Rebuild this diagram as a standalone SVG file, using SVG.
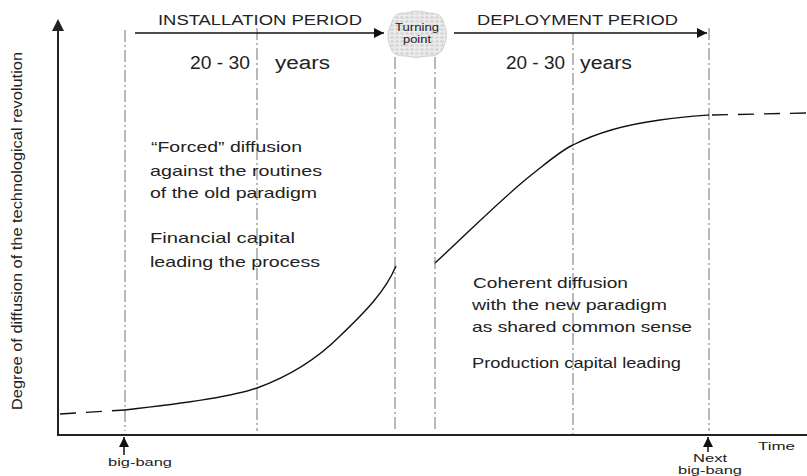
<svg xmlns="http://www.w3.org/2000/svg" width="807" height="476" viewBox="0 0 807 476">
<style>
  text { font-family: "Liberation Sans", Arial, sans-serif; fill: #222; }
  .axis { stroke: #222; stroke-width: 2; fill: none; }
  .grid { stroke: #8a8a8a; stroke-width: 1.2; stroke-dasharray: 12 3 2 3; fill: none; }
  .curve { stroke: #111; stroke-width: 1.4; fill: none; }
  .dash { stroke: #111; stroke-width: 1.4; fill: none; stroke-dasharray: 16 10; }
  .arrow { stroke: #111; stroke-width: 1.5; fill: none; marker-end: url(#head); }
  .body { font-size: 15px; }
  .title { font-size: 14px; }
  .years { font-size: 18px; }
  .small { font-size: 10.5px; }
</style>
<defs>
  <marker id="head" markerWidth="10" markerHeight="10" refX="10" refY="5" orient="auto" markerUnits="userSpaceOnUse">
    <path d="M0,0 L10,5 L0,10 Z" fill="#111"/>
  </marker>
  <pattern id="tex" width="5" height="4" patternUnits="userSpaceOnUse">
    <rect width="5" height="4" fill="#ececec"/>
    <rect x="0.5" y="0.5" width="3" height="2" fill="#cfcfcf"/>
  </pattern>
</defs>

<g id="axes">
  <line class="axis" x1="58" y1="435" x2="58" y2="30"/>
  <path d="M52,31 L58,19 L64,31 Z" fill="#222"/>
  <line class="axis" x1="57" y1="435" x2="807" y2="435"/>
  <text x="22" y="231" font-size="14" text-anchor="middle" transform="rotate(-90 22 231)" textLength="358" lengthAdjust="spacingAndGlyphs">Degree of diffusion of the technological revolution</text>
  <text x="758" y="450" font-size="11" textLength="37" lengthAdjust="spacingAndGlyphs">Time</text>
</g>

<g id="gridlines">
  <line class="grid" x1="125" y1="30" x2="125" y2="431"/>
  <line class="grid" x1="257" y1="28" x2="257" y2="431"/>
  <line class="grid" x1="395" y1="57" x2="395" y2="431"/>
  <line class="grid" x1="435" y1="57" x2="435" y2="431"/>
  <line class="grid" x1="573" y1="33" x2="573" y2="434"/>
  <line class="grid" x1="709" y1="28" x2="709" y2="431"/>
</g>

<g id="connectors">
  <line class="arrow" x1="135" y1="33" x2="384" y2="33"/>
  <line class="arrow" x1="454" y1="33" x2="707" y2="33"/>
  <line class="arrow" x1="124" y1="455" x2="124" y2="437"/>
  <line class="arrow" x1="708" y1="452" x2="708" y2="437"/>
</g>

<g id="curve">
  <path class="dash" d="M60,414 L125,410"/>
  <path class="curve" d="M125,410 C180,404 235,396 257,388 C290,376 318,358 340,336 C365,312 385,292 396,266"/>
  <path class="curve" d="M435,263 C470,231 500,200 530,176 C548,162 560,151 573,145 C600,131 630,124 660,120 C680,117 695,116 709,115"/>
  <path class="dash" d="M712,115 L807,113" stroke-dasharray="20 18"/>
</g>

<g id="installation">
  <text class="title" x="158" y="25" textLength="204" lengthAdjust="spacingAndGlyphs">INSTALLATION PERIOD</text>
  <text class="years" x="190" y="69" textLength="60" lengthAdjust="spacingAndGlyphs">20 - 30</text>
  <text class="years" x="275" y="69" textLength="55" lengthAdjust="spacingAndGlyphs">years</text>
</g>

<g id="turning-point">
  <path d="M392,22 Q394,12 407,13 Q417,9 428,13 Q442,12 444,24 Q449,35 444,46 Q441,57 427,56 Q417,59 406,56 Q392,57 390,46 Q385,35 392,22 Z" fill="url(#tex)" stroke="#d0d0d0" stroke-width="1"/>
  <line x1="417" y1="13" x2="417" y2="57" stroke="#e6e6e6" stroke-width="1"/>
  <text x="417" y="31" text-anchor="middle" font-size="10.5" textLength="44" lengthAdjust="spacingAndGlyphs">Turning</text>
  <text x="417" y="43" text-anchor="middle" font-size="10.5" textLength="28" lengthAdjust="spacingAndGlyphs">point</text>
</g>

<g id="deployment">
  <text class="title" x="477" y="25" textLength="201" lengthAdjust="spacingAndGlyphs">DEPLOYMENT PERIOD</text>
  <text class="years" x="506" y="69" textLength="59" lengthAdjust="spacingAndGlyphs">20 - 30</text>
  <text class="years" x="580" y="69" textLength="52" lengthAdjust="spacingAndGlyphs">years</text>
</g>

<g id="installation-text">
  <text class="body" x="151" y="152" textLength="151" lengthAdjust="spacingAndGlyphs">“Forced” diffusion</text>
  <text class="body" x="150" y="176" textLength="172" lengthAdjust="spacingAndGlyphs">against the routines</text>
  <text class="body" x="150" y="198" textLength="167" lengthAdjust="spacingAndGlyphs">of the old paradigm</text>
  <text class="body" x="150" y="243" textLength="145" lengthAdjust="spacingAndGlyphs">Financial  capital</text>
  <text class="body" x="150" y="267" textLength="170" lengthAdjust="spacingAndGlyphs">leading the process</text>
</g>

<g id="deployment-text">
  <text class="body" x="473" y="288" textLength="155" lengthAdjust="spacingAndGlyphs">Coherent diffusion</text>
  <text class="body" x="472" y="310" textLength="195" lengthAdjust="spacingAndGlyphs">with the new paradigm</text>
  <text class="body" x="472" y="332" textLength="220" lengthAdjust="spacingAndGlyphs">as shared common sense</text>
  <text class="body" x="472" y="368" textLength="209" lengthAdjust="spacingAndGlyphs">Production capital leading</text>
</g>

<g id="big-bang">
  <text class="small" x="140" y="466" text-anchor="middle" textLength="64" lengthAdjust="spacingAndGlyphs">big-bang</text>
</g>
<g id="next-big-bang">
  <text class="small" x="710" y="462" text-anchor="middle" textLength="34" lengthAdjust="spacingAndGlyphs">Next</text>
  <text class="small" x="710" y="474" text-anchor="middle" textLength="64" lengthAdjust="spacingAndGlyphs">big-bang</text>
</g>
</svg>
